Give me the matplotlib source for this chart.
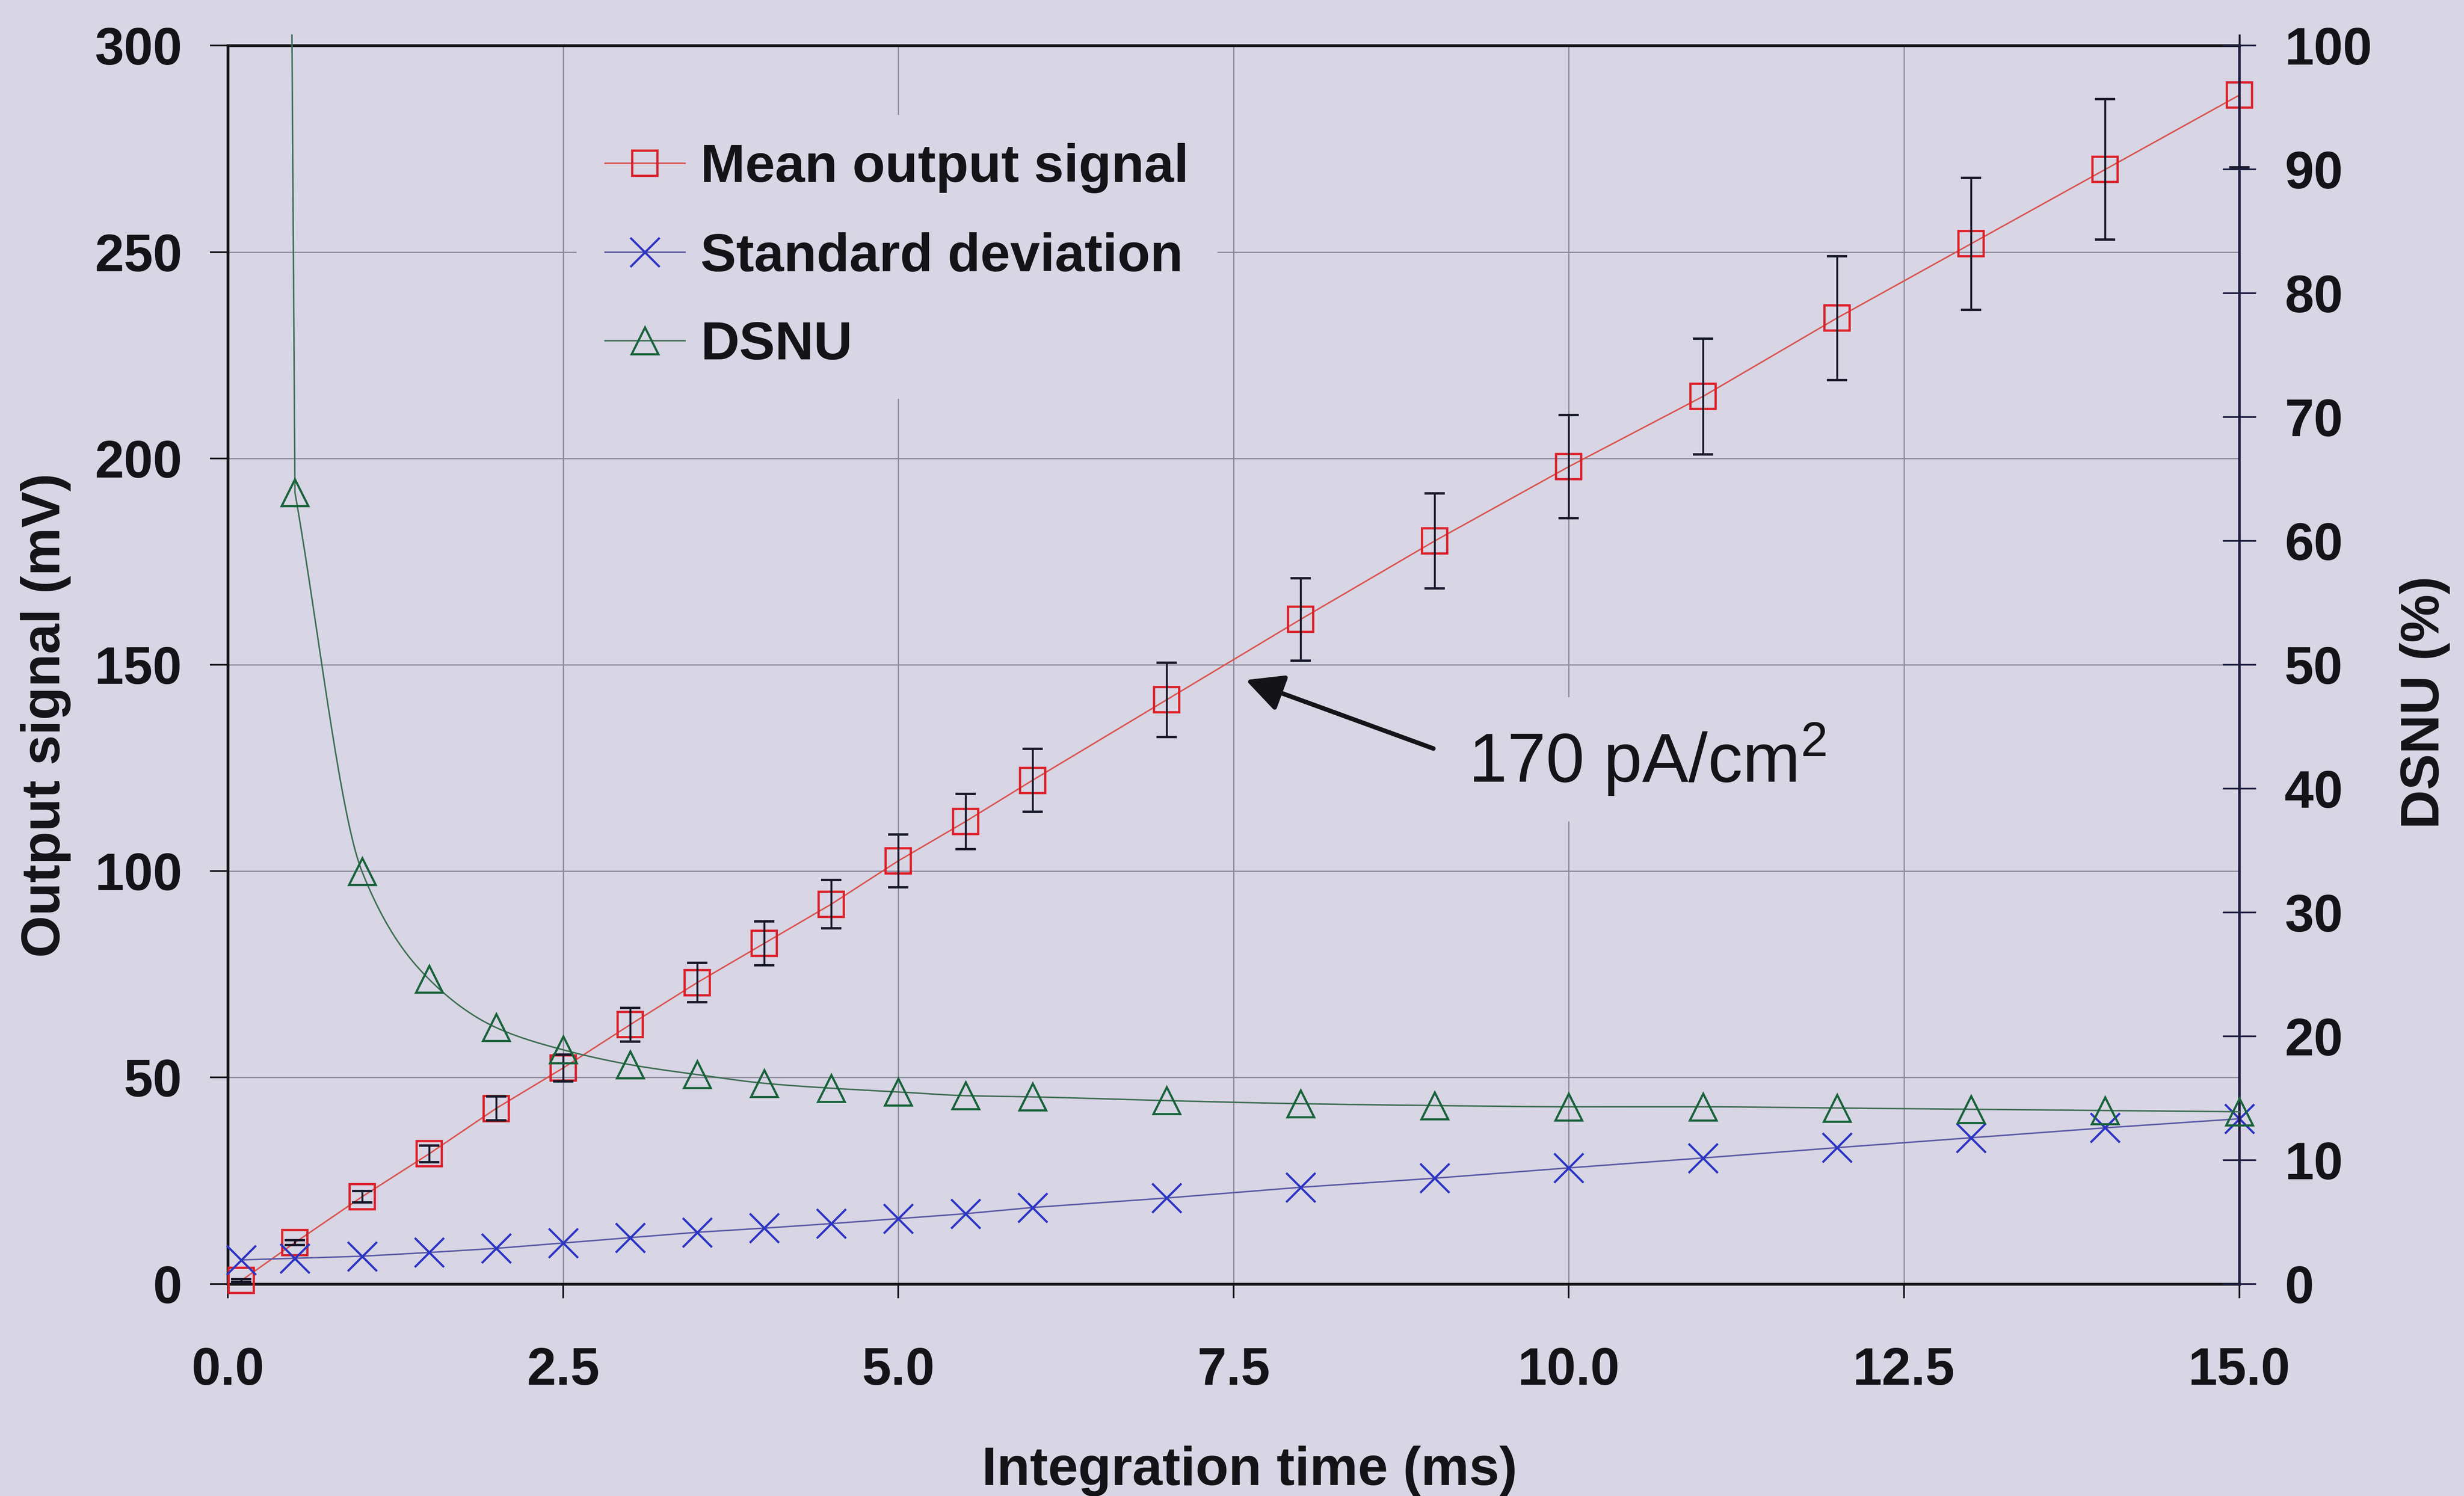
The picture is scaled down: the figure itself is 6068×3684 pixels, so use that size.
import numpy as np
import matplotlib
matplotlib.use("Agg")
import matplotlib.pyplot as plt
from matplotlib.lines import Line2D
from matplotlib.transforms import Bbox, TransformedBbox

# ---- data -------------------------------------------------------------
t_ms = [0.1, 0.5, 1.0, 1.5, 2.0, 2.5, 3.0, 3.5, 4.0, 4.5, 5.0, 5.5, 6.0,
        7.0, 8.0, 9.0, 10.0, 11.0, 12.0, 13.0, 14.0, 15.0]
mean_mv = [0.8, 10.0, 21.1, 31.5, 42.5, 52.3, 62.8, 73.0, 82.5, 92.0, 102.5,
           112.0, 122.0, 141.5, 161.0, 180.0, 198.0, 215.0, 234.0, 252.0,
           270.0, 288.0]
mean_err = [0.3, 0.6, 1.4, 2.0, 2.9, 3.2, 4.1, 4.8, 5.3, 5.9, 6.4, 6.7, 7.6,
            9.0, 10.0, 11.5, 12.5, 14.0, 15.0, 16.0, 17.0, 17.5]
std_mv = [5.8, 6.2, 6.7, 7.6, 8.6, 9.9, 11.2, 12.5, 13.5, 14.6, 15.8, 17.0,
          18.5, 20.8, 23.4, 25.6, 28.1, 30.5, 33.0, 35.4, 37.8, 40.0]
dsnu_pct = [720.0, 63.9, 33.3, 24.6, 20.7, 18.9, 17.7, 16.9, 16.2, 15.8, 15.5,
            15.2, 15.1, 14.8, 14.55, 14.4, 14.3, 14.3, 14.2, 14.1, 14.0, 13.9]

x_ticks = [0.0, 2.5, 5.0, 7.5, 10.0, 12.5, 15.0]
x_tick_labels = ["0.0", "2.5", "5.0", "7.5", "10.0", "12.5", "15.0"]
left_ticks = [0, 50, 100, 150, 200, 250, 300]
right_ticks = [0, 10, 20, 30, 40, 50, 60, 70, 80, 90, 100]

series_labels = ["Mean output signal", "Standard deviation", "DSNU"]
note_text = "170 pA/cm$^{2}$"
note_pos = (9.25, 121.6)
arrow_tip = (7.59, 146.3)
arrow_tail = (8.99, 129.7)

# ---- style ------------------------------------------------------------
BG = "#d8d5e4"
INK = "#141418"
RED, RED_LINE = "#dc1f28", "#d9544f"
BLUE, BLUE_LINE = "#2b34c4", "#5c5aa6"
GREEN, GREEN_LINE = "#17633a", "#3f6e54"
GRID = "#8e8c9c"
NAVY = "#1c1c3e"

plt.rcParams["font.family"] = ["Liberation Sans", "DejaVu Sans"]
plt.rcParams["mathtext.fontset"] = "custom"
plt.rcParams["mathtext.rm"] = "Liberation Sans"
plt.rcParams["mathtext.default"] = "regular"


def pchip_curve(x, y, n=40):
    """Monotone cubic (Fritsch-Carlson) curve through the points."""
    x = np.asarray(x, float)
    y = np.asarray(y, float)
    h = np.diff(x)
    d = np.diff(y) / h
    m = np.zeros_like(y)
    m[0], m[-1] = d[0], d[-1]
    for k in range(1, len(x) - 1):
        if d[k - 1] * d[k] > 0:
            w1 = 2 * h[k] + h[k - 1]
            w2 = h[k] + 2 * h[k - 1]
            m[k] = (w1 + w2) / (w1 / d[k - 1] + w2 / d[k])
    xs, ys = [], []
    for k in range(len(x) - 1):
        t = np.linspace(0, 1, n, endpoint=(k == len(x) - 2))
        h00 = 2 * t**3 - 3 * t**2 + 1
        h10 = t**3 - 2 * t**2 + t
        h01 = -2 * t**3 + 3 * t**2
        h11 = t**3 - t**2
        ys.append(h00 * y[k] + h10 * h[k] * m[k] + h01 * y[k + 1] + h11 * h[k] * m[k + 1])
        xs.append(x[k] + t * h[k])
    return np.concatenate(xs), np.concatenate(ys)


fig = plt.figure(figsize=(60.68, 36.84), dpi=100)
fig.patch.set_facecolor(BG)
ax = fig.add_axes([0.0925, 0.1418, 0.8163, 0.8277])
ax.set_facecolor(BG)
ax2 = ax.twinx()

ax.set_xlim(0, 15)
ax.set_ylim(0, 300)
ax2.set_ylim(0, 100)

# plot-area clip region, slightly larger than the frame
clip = TransformedBbox(Bbox([[-0.03, -0.03], [1.03, 1.009]]), ax.transAxes)


def clip_to(artists):
    for a in artists:
        a.set_clip_path(None)
        a.set_clip_box(clip)
        a.set_clip_on(True)


# mean output signal with error bars
mean_line, = ax.plot(t_ms, mean_mv, color=RED_LINE, lw=2.6, marker="s", ms=45,
                     mfc="none", mec=RED, mew=4.0, zorder=3)
eb = ax.errorbar(t_ms, mean_mv, yerr=mean_err, fmt="none", ecolor="#17172a",
                 elinewidth=3.4, capsize=18, capthick=4.2, zorder=4)
clip_to([mean_line] + list(eb[1]) + list(eb[2]))

# standard deviation
std_line, = ax.plot(t_ms, std_mv, color=BLUE_LINE, lw=2.6, zorder=3)
std_marks, = ax.plot(t_ms, std_mv, ls="none", marker="x", ms=52, mec=BLUE,
                     mew=3.8, zorder=3)
clip_to([std_line, std_marks])

# DSNU on the secondary axis: straight first step, smooth afterwards
cx, cy = pchip_curve(t_ms[1:], dsnu_pct[1:])
gx = np.concatenate([[t_ms[0]], cx])
gy = np.concatenate([[dsnu_pct[0]], cy])
dsnu_line, = ax2.plot(gx, gy, color=GREEN_LINE, lw=2.6, zorder=3)
dsnu_marks, = ax2.plot(t_ms, dsnu_pct, ls="none", marker="^", ms=47,
                       mfc="none", mec=GREEN, mew=3.8, zorder=3)
clip_to([dsnu_line, dsnu_marks])

# ---- axes cosmetics ----------------------------------------------------
ax.set_xticks(x_ticks)
ax.set_xticklabels(x_tick_labels)
ax.set_yticks(left_ticks)
ax2.set_yticks(right_ticks)

ax.grid(True, color=GRID, lw=2.2, zorder=0)
ax.set_axisbelow(True)

for side in ["left", "bottom", "top"]:
    ax.spines[side].set_linewidth(5)
    ax.spines[side].set_color(INK)
ax.spines["right"].set_visible(False)
for side in ["left", "bottom", "top"]:
    ax2.spines[side].set_visible(False)
ax2.spines["right"].set_linewidth(4.5)
ax2.spines["right"].set_color(NAVY)

ax.tick_params(axis="y", direction="out", length=32, width=3, pad=49,
               labelsize=93, colors=INK)
ax.tick_params(axis="x", direction="out", length=25, width=3, pad=86,
               labelsize=93, colors=INK)
ax2.tick_params(axis="y", direction="inout", length=59, width=3, pad=51,
                labelsize=93, colors=NAVY, labelcolor=INK)
for lab in ax.get_xticklabels() + ax.get_yticklabels() + ax2.get_yticklabels():
    lab.set_fontweight("bold")

ax.set_xlabel("Integration time (ms)", fontsize=96, fontweight="bold", color=INK)
ax.xaxis.set_label_coords(0.508, -0.1624)
ax.xaxis.label.set_verticalalignment("baseline")

ax.set_ylabel("Output signal (mV)", fontsize=96, fontweight="bold", color=INK)
ax.yaxis.set_label_coords(-0.0836, 0.459)
ax.yaxis.label.set_verticalalignment("baseline")

ax2.set_ylabel("DSNU (%)", fontsize=96, fontweight="bold", color=INK,
               rotation=90)
ax2.yaxis.set_label_coords(1.0992, 0.4695)
ax2.yaxis.label.set_verticalalignment("baseline")

# ---- legend ------------------------------------------------------------
handles = [
    Line2D([], [], color=RED_LINE, lw=2.6, marker="s", ms=45, mfc="none",
           mec=RED, mew=4.0),
    Line2D([], [], color=BLUE_LINE, lw=2.6, marker="x", ms=52, mec=BLUE,
           mew=3.8),
    Line2D([], [], color=GREEN_LINE, lw=2.6, marker="^", ms=47, mfc="none",
           mec=GREEN, mew=3.8),
]
leg = ax2.legend(handles, series_labels, loc="upper left",
                 bbox_to_anchor=(0.1734, 0.9442), bbox_transform=ax.transAxes,
                 frameon=True, facecolor=BG, edgecolor="none", framealpha=1,
                 fancybox=False, borderpad=0.53, borderaxespad=0,
                 handlelength=1.49, handletextpad=0.29, labelspacing=0.72,
                 numpoints=1,
                 prop=dict(family="Liberation Sans", weight="bold", size=95))
for txt in leg.get_texts():
    txt.set_color(INK)

# ---- annotation --------------------------------------------------------
ax.annotate("", xy=arrow_tip, xytext=arrow_tail,
            arrowprops=dict(arrowstyle="-|>,head_length=0.4,head_width=0.2",
                            mutation_scale=140, lw=8, color=INK,
                            shrinkA=0, shrinkB=0), zorder=5)
ax.text(note_pos[0], note_pos[1], note_text, fontsize=123, fontweight="normal",
        color=INK, ha="left", va="baseline", zorder=5,
        bbox=dict(boxstyle="square,pad=0.35", fc=BG, ec="none"))

fig.savefig("out.png", dpi=100, facecolor=BG)
